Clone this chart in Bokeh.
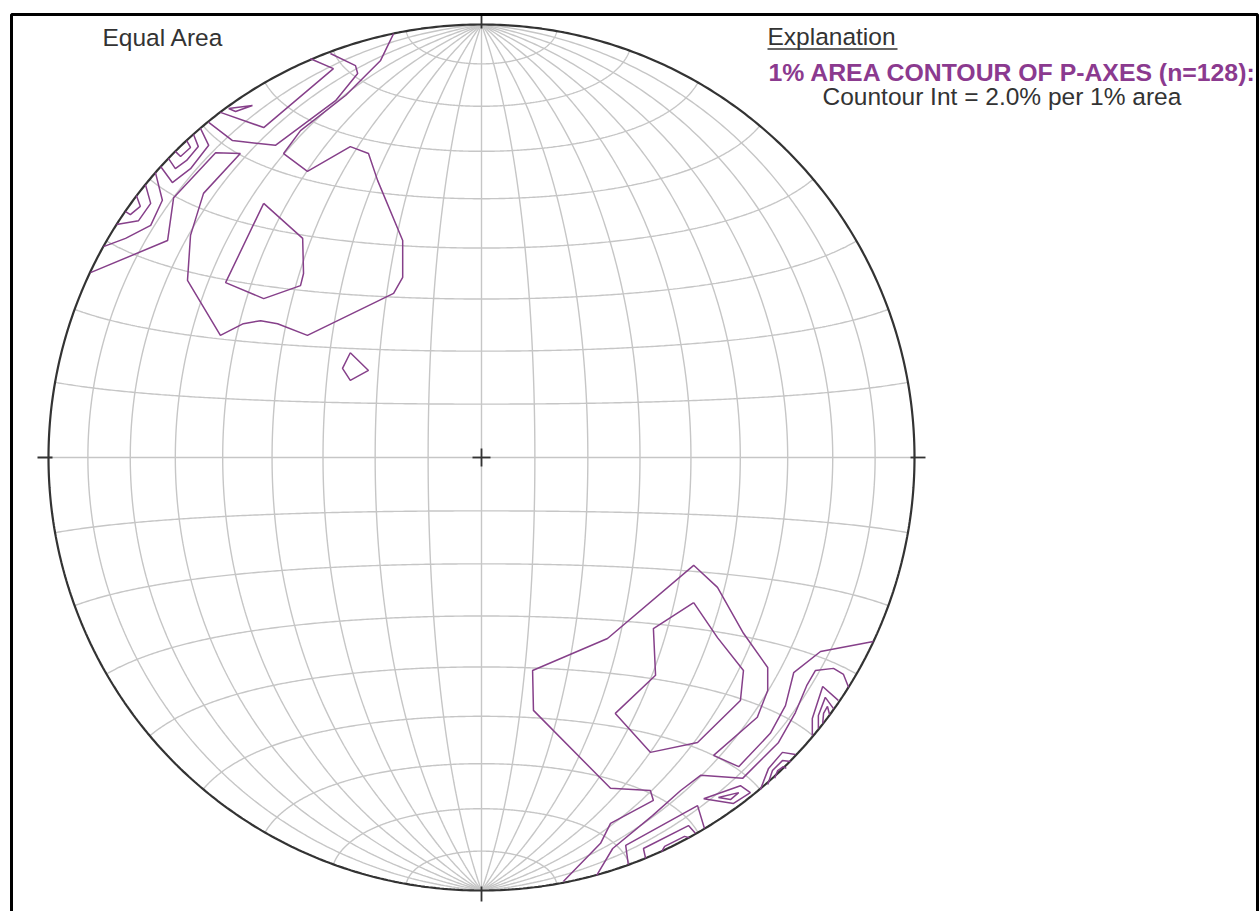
import numpy as np
from bokeh.plotting import figure
from bokeh.models import Range1d
from bokeh.core.properties import value
from bokeh.embed import file_html
from bokeh.resources import INLINE

# ---------------------------------------------------------------- data
# Schmidt net grid, degrees
meridian_lons = list(range(-80, 81, 10))     # great circles
parallel_lats = list(range(-80, 81, 10))     # small circles

# 1% area contours of P-axes, net units (primitive radius = 1, x east, y north)
nw_outer = [(-0.903, 0.427), (-0.725, 0.501), (-0.711, 0.600), (-0.614, 0.704),
            (-0.557, 0.702), (-0.642, 0.610), (-0.672, 0.513), (-0.679, 0.409),
            (-0.603, 0.282), (-0.550, 0.309), (-0.510, 0.316), (-0.471, 0.309),
            (-0.402, 0.282), (-0.203, 0.379), (-0.182, 0.416), (-0.182, 0.501),
            (-0.240, 0.640), (-0.261, 0.702), (-0.303, 0.718), (-0.402, 0.661),
            (-0.457, 0.702), (-0.418, 0.755), (-0.314, 0.836), (-0.233, 0.917),
            (-0.203, 0.979)]
nw_core = [(-0.503, 0.587), (-0.413, 0.506), (-0.411, 0.425), (-0.418, 0.397),
           (-0.503, 0.367), (-0.591, 0.404), (-0.503, 0.587)]
nw_spot = [(-0.303, 0.242), (-0.261, 0.201), (-0.303, 0.178), (-0.321, 0.206),
           (-0.303, 0.242)]
nw_rim_1 = [(-0.349, 0.933), (-0.291, 0.905), (-0.286, 0.887), (-0.337, 0.824),
            (-0.476, 0.721), (-0.575, 0.732), (-0.630, 0.774)]
nw_rim_2 = [(-0.395, 0.921), (-0.342, 0.898), (-0.503, 0.762), (-0.603, 0.797)]
nw_rim_3 = [(-0.584, 0.806), (-0.529, 0.813), (-0.568, 0.799), (-0.584, 0.806)]
nw_a1 = [(-0.649, 0.760), (-0.630, 0.721), (-0.672, 0.667), (-0.714, 0.635),
         (-0.741, 0.672)]
nw_a2 = [(-0.665, 0.746), (-0.654, 0.718), (-0.681, 0.686), (-0.707, 0.667),
         (-0.723, 0.691)]
nw_a3 = [(-0.681, 0.732), (-0.672, 0.716), (-0.695, 0.695), (-0.707, 0.707)]
nw_b1 = [(-0.753, 0.658), (-0.737, 0.594), (-0.764, 0.536), (-0.822, 0.506),
         (-0.873, 0.487)]
nw_b2 = [(-0.776, 0.630), (-0.764, 0.587), (-0.792, 0.547), (-0.843, 0.538)]
nw_b3 = [(-0.797, 0.605), (-0.788, 0.580), (-0.811, 0.561), (-0.822, 0.568)]

se_outer = [(0.189, -0.979), (0.275, -0.891), (0.298, -0.845), (0.397, -0.792),
            (0.390, -0.769), (0.298, -0.764), (0.120, -0.584), (0.118, -0.492),
            (0.291, -0.418), (0.490, -0.249), (0.545, -0.300), (0.605, -0.406),
            (0.661, -0.485), (0.661, -0.538), (0.637, -0.600), (0.536, -0.688),
            (0.594, -0.714), (0.667, -0.637), (0.702, -0.573), (0.721, -0.497),
            (0.783, -0.448), (0.905, -0.425)]
se_core = [(0.490, -0.335), (0.545, -0.416), (0.605, -0.492), (0.598, -0.561),
           (0.499, -0.658), (0.390, -0.681), (0.309, -0.591), (0.402, -0.503),
           (0.397, -0.395), (0.490, -0.335)]
se_rim = [(0.266, -0.965), (0.303, -0.903), (0.395, -0.827), (0.460, -0.769),
          (0.506, -0.734), (0.603, -0.741), (0.686, -0.658), (0.725, -0.589),
          (0.751, -0.527), (0.771, -0.492), (0.813, -0.487), (0.836, -0.501),
          (0.848, -0.531)]
se_c1 = [(0.339, -0.940), (0.333, -0.896), (0.499, -0.804), (0.515, -0.857)]
se_c2 = [(0.379, -0.926), (0.374, -0.903), (0.478, -0.850), (0.494, -0.868)]
se_c3 = [(0.416, -0.910), (0.423, -0.898), (0.469, -0.875), (0.480, -0.878)]
se_d1 = [(0.513, -0.788), (0.598, -0.758), (0.621, -0.774), (0.582, -0.799),
         (0.513, -0.788)]
se_d2 = [(0.547, -0.785), (0.594, -0.774), (0.575, -0.790), (0.547, -0.785)]
se_e1 = [(0.644, -0.767), (0.663, -0.718), (0.695, -0.681), (0.725, -0.686)]
se_e2 = [(0.661, -0.755), (0.672, -0.723), (0.695, -0.700), (0.714, -0.702)]
se_e3 = [(0.677, -0.741), (0.684, -0.723), (0.697, -0.714), (0.704, -0.718)]
se_f1 = [(0.764, -0.642), (0.764, -0.603), (0.788, -0.529), (0.824, -0.561)]
se_f2 = [(0.778, -0.626), (0.778, -0.596), (0.794, -0.554), (0.813, -0.580)]
se_f3 = [(0.788, -0.614), (0.790, -0.591), (0.799, -0.575), (0.804, -0.594)]

contours = [nw_outer, nw_core, nw_spot, nw_rim_1, nw_rim_2, nw_rim_3,
            nw_a1, nw_a2, nw_a3, nw_b1, nw_b2, nw_b3,
            se_outer, se_core, se_rim, se_c1, se_c2, se_c3, se_d1, se_d2,
            se_e1, se_e2, se_e3, se_f1, se_f2, se_f3]

title_text = "1% AREA CONTOUR OF P-AXES (n=128):"
interval_text = "Countour Int = 2.0% per 1% area"

# ---------------------------------------------------------------- layout
W, H = 1260, 911
CX, CY, R = 481.0, 457.0, 433.0          # net centre and radius on the page
PURPLE = "#8b3a8f"
INK = "#333333"
FONT = value("Liberation Sans")


def schmidt(lon_deg, lat_deg):
    """Equatorial Lambert equal-area projection, unit primitive."""
    lon = np.radians(lon_deg)
    lat = np.radians(lat_deg)
    d = np.sqrt(1.0 + np.cos(lat) * np.cos(lon))
    return np.cos(lat) * np.sin(lon) / d, np.sin(lat) / d


def to_page(x, y):
    return (CX + R * np.asarray(x, float)).tolist(), (CY - R * np.asarray(y, float)).tolist()


p = figure(width=W, height=H, x_range=Range1d(0, W), y_range=Range1d(H, 0),
           output_backend="svg", toolbar_location=None, min_border=0,
           x_axis_type=None, y_axis_type=None, outline_line_color=None,
           background_fill_color="white", border_fill_color="white")
p.grid.visible = False

# net grid
gx, gy = [], []
sweep = np.linspace(-90, 90, 361)
for lon in meridian_lons:
    x, y = schmidt(np.full_like(sweep, lon), sweep)
    a, b = to_page(x, y)
    gx.append(a)
    gy.append(b)
for lat in parallel_lats:
    x, y = schmidt(sweep, np.full_like(sweep, lat))
    a, b = to_page(x, y)
    gx.append(a)
    gy.append(b)
p.multi_line(gx, gy, line_color="#c6c6c6", line_width=1.4)

# primitive circle
t = np.linspace(0, 2 * np.pi, 721)
a, b = to_page(np.cos(t), np.sin(t))
p.line(a, b, line_color=INK, line_width=2.2)

# contours
cx_list, cy_list = [], []
for c in contours:
    xs, ys = zip(*c)
    a, b = to_page(xs, ys)
    cx_list.append(a)
    cy_list.append(b)
p.multi_line(cx_list, cy_list, line_color="#86408a", line_width=1.5)

# cardinal ticks and centre cross
out, inn, arm = 11, 4, 9
tx = [[CX, CX], [CX, CX], [CX - R - out, CX - R + inn], [CX + R - inn, CX + R + out],
      [CX - arm, CX + arm], [CX, CX]]
ty = [[CY - R - out, CY - R + inn], [CY + R - inn, CY + R + out], [CY, CY], [CY, CY],
      [CY, CY], [CY - arm, CY + arm]]
p.multi_line(tx, ty, line_color=INK, line_width=1.8)

# texts
p.text(x=[102], y=[37], text=["Equal Area"], text_font=FONT, text_font_size="24.5px",
       text_color=INK, text_baseline="alphabetic", text_align="left")
p.text(x=[767], y=[36], text=["Explanation"], text_font=FONT, text_font_size="24.5px",
       text_color=INK, text_baseline="alphabetic", text_align="left")
p.line([767, 897], [48.5, 48.5], line_color=INK, line_width=1.5)
p.text(x=[768], y=[72], text=[title_text], text_font=FONT, text_font_size="24.8px",
       text_font_style="bold", text_color=PURPLE, text_baseline="alphabetic",
       text_align="left")
p.text(x=[822], y=[96], text=[interval_text], text_font=FONT, text_font_size="24.5px",
       text_color=INK, text_baseline="alphabetic", text_align="left")

# page frame
p.quad(left=[11], right=[1257], top=[14], bottom=[940], fill_color=None,
       line_color="black", line_width=3)

open("out.html", "w").write(file_html(p, INLINE))
